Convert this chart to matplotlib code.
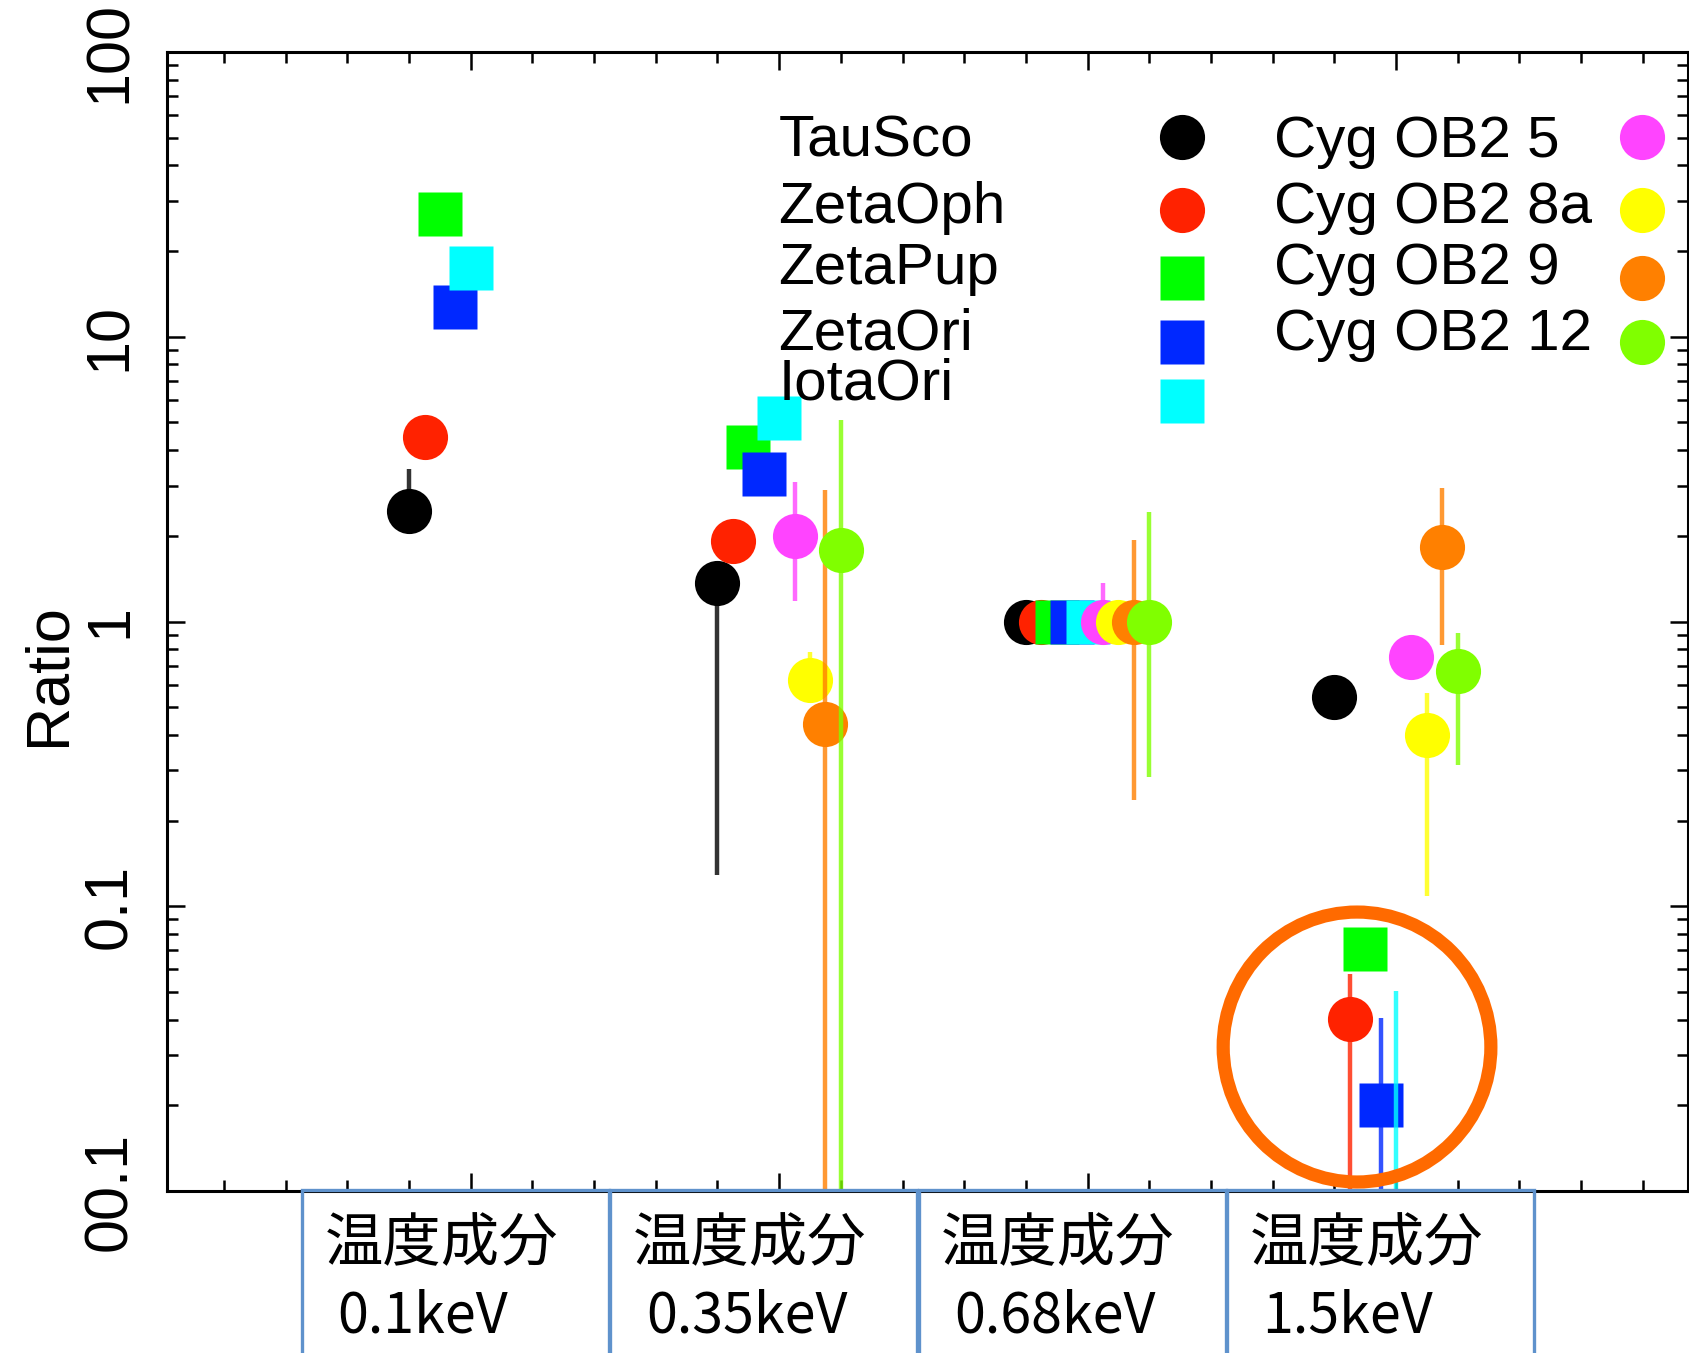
import numpy as np
import matplotlib
matplotlib.use("Agg")
import matplotlib.pyplot as plt
import matplotlib.transforms as mtransforms
from matplotlib.patches import Rectangle, Ellipse
from matplotlib.ticker import MultipleLocator, LogLocator, NullFormatter

nan = np.nan

# temperature components (one group of points per component)
components = ["0.1keV", "0.35keV", "0.68keV", "1.5keV"]
component_title = "温度成分"

stars = ["TauSco", "ZetaOph", "ZetaPup", "ZetaOri", "IotaOri",
         "Cyg OB2 5", "Cyg OB2 8a", "Cyg OB2 9", "Cyg OB2 12"]

# ratio per star, per component
ratio = [
    [2.45, 1.36, 1.0, 0.545],
    [4.45, 1.92, 1.0, 0.0403],
    [26.9, 4.1, 1.0, 0.071],
    [12.7, 3.3, 1.0, 0.020],
    [17.4, 5.2, 1.0, 0.005],
    [nan, 2.0, 1.0, 0.75],
    [nan, 0.625, 1.0, 0.40],
    [nan, 0.437, 1.0, 1.82],
    [nan, 1.79, 1.0, 0.67],
]
# lower / upper ends of the error bars (nan = no bar)
err_lo = [
    [2.15, 0.129, nan, nan],
    [nan, nan, nan, 0.001],
    [nan, nan, nan, nan],
    [nan, nan, nan, 0.001],
    [nan, nan, nan, 0.001],
    [nan, 1.18, 0.85, nan],
    [nan, 0.52, nan, 0.109],
    [nan, 0.001, 0.236, 0.83],
    [nan, 0.001, 0.285, 0.314],
]
err_hi = [
    [3.44, 1.5, nan, nan],
    [nan, nan, nan, 0.058],
    [nan, nan, nan, nan],
    [nan, nan, nan, 0.0406],
    [nan, nan, nan, 0.0505],
    [nan, 3.1, 1.37, nan],
    [nan, 0.78, nan, 0.563],
    [nan, 2.89, 1.94, 2.94],
    [nan, 5.1, 2.43, 0.91],
]

ytick_values = [100, 10, 1, 0.1, 0.01]
ytick_labels = ["100", "10", "1", "0.1", "00.1"]

colors = ["#000000", "#ff2200", "#00ff00", "#0028ff", "#00ffff",
          "#ff44ff", "#ffff00", "#ff8000", "#80ff00"]
markers = ["o", "o", "s", "s", "s", "o", "o", "o", "o"]

plt.rcParams["font.family"] = ["Liberation Sans", "DejaVu Sans"]

W, H = 1689, 1353
fig = plt.figure(figsize=(W / 100, H / 100), dpi=100)
ax = fig.add_axes([167 / W, 1 - 1191 / H, 1521 / W, 1139 / H])
ax.set_yscale("log")
ax.set_ylim(0.01, 100)
ax.set_xlim(0.015, 4.947)

xc = np.arange(1, len(components) + 1)
for i, name in enumerate(stars):
    x = xc + (i - 4) * 0.05
    y = np.array(ratio[i])
    lo = np.array(err_lo[i])
    hi = np.array(err_hi[i])
    has = ~np.isnan(lo)
    if has.any():
        ax.errorbar(x[has], y[has], yerr=[y[has] - lo[has], hi[has] - y[has]],
                    fmt="none", ecolor=colors[i], elinewidth=3.2, alpha=0.8,
                    capsize=0, zorder=3 + 2 * i)
    ms = 32.5 if markers[i] == "o" else 31
    ax.plot(x, y, ls="none", marker=markers[i], ms=ms, color=colors[i],
            mec="none", zorder=4 + 2 * i)

# axes, ticks
ax.xaxis.set_major_locator(MultipleLocator(1))
ax.xaxis.set_minor_locator(MultipleLocator(0.2))
ax.set_yticks(ytick_values, ytick_labels)
ax.yaxis.set_minor_locator(LogLocator(base=10, subs=range(2, 10)))
ax.yaxis.set_minor_formatter(NullFormatter())
ax.tick_params(which="both", direction="in", top=True, right=True,
               labelbottom=False, width=1.8, color="black")
ax.tick_params(which="major", length=13)
ax.tick_params(which="minor", length=8)
ax.tick_params(axis="y", labelsize=44, pad=20, labelrotation=90)
for lbl in ax.get_yticklabels():
    lbl.set_va("center")
for sp in ax.spines.values():
    sp.set_linewidth(2.2)

ax.set_ylabel("Ratio", fontsize=44)
ax.yaxis.set_label_coords(-0.059, 0.453)

# in-plot key: two columns, names then markers
text_y = [0.9210, 0.8634, 0.8094, 0.7518, 0.7082]
mark_y = [0.9255, 0.8613, 0.8017, 0.7450, 0.6940]
cols = [(0.402, 0.667, range(0, 5)), (0.728, 0.970, range(5, 9))]
for tx, mx, idx in cols:
    for row, i in enumerate(idx):
        ax.text(tx, text_y[row], stars[i], transform=ax.transAxes,
                fontsize=42, va="center", ha="left", zorder=40)
        ms = 32.5 if markers[i] == "o" else 31
        ax.plot(mx, mark_y[row], transform=ax.transAxes, marker=markers[i],
                ms=ms, color=colors[i], mec="none", clip_on=False, zorder=40)

# component boxes under the axis
trans = mtransforms.blended_transform_factory(ax.transData, fig.transFigure)
box_top = 1 - 1190 / H
for k, comp in enumerate(components):
    left = xc[k] - 0.05 - 0.4975
    ax.add_patch(Rectangle((left, -0.02), 0.995, box_top + 0.02, transform=trans,
                           fill=False, ec="#5f92cc", lw=2.4, clip_on=False,
                           zorder=50))
    ax.text(left + 0.073, 1 - 1245 / H, component_title, transform=trans,
            fontsize=42, family=["Noto Sans CJK JP", "DejaVu Sans"],
            va="center", ha="left")
    ax.text(left + 0.115, 1 - 1317 / H, comp, transform=trans,
            fontsize=40, family=["Noto Sans CJK JP", "DejaVu Sans"],
            va="center", ha="left")

# highlight ring around the 1.5keV low points
ax.add_patch(Ellipse((0.7824, 0.1264), 0.176, 0.2370, transform=ax.transAxes,
                     fill=False, ec="#ff6a00", lw=9.5, clip_on=False, zorder=60))

fig.savefig("out.png", dpi=100)
